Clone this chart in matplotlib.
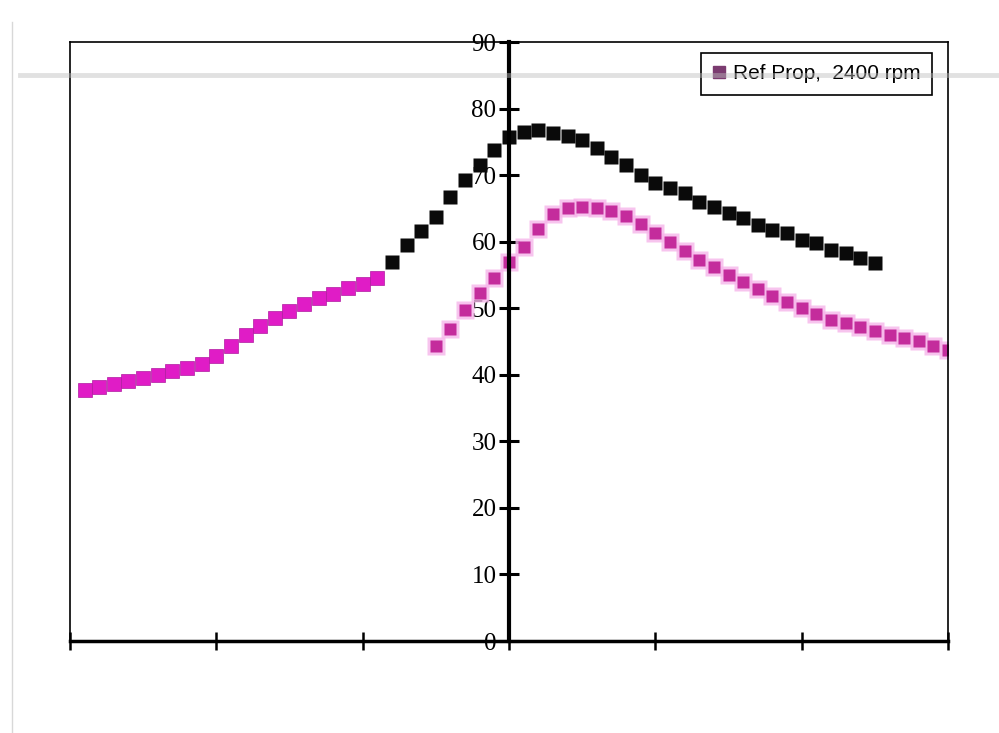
import matplotlib
matplotlib.use("Agg")
import matplotlib.pyplot as plt
from matplotlib.lines import Line2D

# Left branch (magenta), x = -2.9 .. -0.9
left_x = [-2.9, -2.8, -2.7, -2.6, -2.5, -2.4, -2.3, -2.2, -2.1, -2.0, -1.9,
          -1.8, -1.7, -1.6, -1.5, -1.4, -1.3, -1.2, -1.1, -1.0, -0.9]
left_y = [37.7, 38.2, 38.6, 39.1, 39.5, 40.0, 40.6, 41.0, 41.6, 42.8, 44.3,
          46.0, 47.3, 48.5, 49.6, 50.6, 51.5, 52.1, 53.0, 53.6, 54.5]

# Black series, x = -0.8 .. 2.5
black_x = [-0.8, -0.7, -0.6, -0.5, -0.4, -0.3, -0.2, -0.1, 0.0,
           0.1, 0.2, 0.3, 0.4, 0.5, 0.6, 0.7, 0.8, 0.9, 1.0, 1.1, 1.2, 1.3,
           1.4, 1.5, 1.6, 1.7, 1.8, 1.9, 2.0, 2.1, 2.2, 2.3, 2.4, 2.5]
black_y = [57.0, 59.5, 61.6, 63.7, 66.7, 69.3, 71.5, 73.8, 75.7,
           76.5, 76.8, 76.3, 75.9, 75.3, 74.1, 72.7, 71.5, 70.0, 68.8, 68.1,
           67.3, 66.0, 65.2, 64.3, 63.6, 62.5, 61.8, 61.3, 60.3, 59.8, 58.8,
           58.3, 57.6, 56.8]

# Right branch (magenta, blurred), x = -0.5 .. 3.0
right_x = [-0.5, -0.4, -0.3, -0.2, -0.1, 0.0, 0.1, 0.2, 0.3, 0.4, 0.5, 0.6,
           0.7, 0.8, 0.9, 1.0, 1.1, 1.2, 1.3, 1.4, 1.5, 1.6, 1.7, 1.8, 1.9,
           2.0, 2.1, 2.2, 2.3, 2.4, 2.5, 2.6, 2.7, 2.8, 2.9, 3.0]
right_y = [44.3, 46.9, 49.7, 52.3, 54.5, 57.0, 59.2, 61.9, 64.2, 65.1, 65.2,
           65.1, 64.6, 63.9, 62.7, 61.3, 60.0, 58.6, 57.2, 56.2, 55.0, 53.9,
           52.9, 51.8, 50.9, 50.0, 49.1, 48.2, 47.8, 47.2, 46.6, 46.0, 45.5,
           45.1, 44.3, 43.7]

y_ticks = [0, 10, 20, 30, 40, 50, 60, 70, 80, 90]
x_ticks = [-3, -2, -1, 0, 1, 2, 3]
legend_label = "Ref Prop,  2400 rpm"

fig = plt.figure(figsize=(9.99, 7.33), dpi=100)
ax = fig.add_axes([0.070, 0.1255, 0.879, 0.8172])

# scan artifacts: faint grey band and left edge line
fig.add_artist(Line2D([0.02, 1.0], [0.897, 0.897], color='#bdbdbd', lw=3.5, alpha=0.45))
fig.add_artist(Line2D([0.012, 0.012], [0.0, 0.97], color='#c8c8c8', lw=1, alpha=0.7))

ax.plot(right_x, right_y, 's', ms=12.5, color='#f6b6ea', mec='none', alpha=0.8)
ax.plot(right_x, right_y, 's', ms=8, color='#c42c9c', mec='none')
ax.plot(left_x, left_y, 's', ms=10, color='#e01cc6', mec='#b01aa0', mew=0.5)
ax.plot(black_x, black_y, 's', ms=10, color='#0a0a0a', mec='none')

ax.set_xlim(-3, 3)
ax.set_ylim(0, 90)

# y axis through x = 0, frame kept with thin lines
ax.spines['left'].set_position(('data', 0))
ax.spines['left'].set_linewidth(3)
ax.spines['bottom'].set_linewidth(2.5)
ax.spines['top'].set_linewidth(1.2)
ax.spines['right'].set_linewidth(1.2)
ax.axvline(-3, color='black', lw=1.2, clip_on=False)

ax.set_yticks(y_ticks)
ax.set_xticks(x_ticks)
ax.set_xticklabels([])
ax.tick_params(axis='y', direction='inout', length=14, width=2.2, pad=2,
               labelsize=18)
ax.tick_params(axis='x', direction='inout', length=13, width=1.8)
for lab in ax.get_yticklabels():
    lab.set_fontfamily('Liberation Serif')

handle = Line2D([], [], ls='none', marker='s', ms=8, color='#7b3b70')
leg = ax.legend([handle], [legend_label], loc='upper right',
                bbox_to_anchor=(0.982, 0.982), borderaxespad=0,
                fancybox=False, framealpha=1, edgecolor='black',
                handlelength=0.6, handletextpad=0.4, borderpad=0.55,
                prop={'family': 'Liberation Sans', 'size': 15})
leg.get_frame().set_linewidth(1.2)

fig.savefig('out.png', dpi=100)
